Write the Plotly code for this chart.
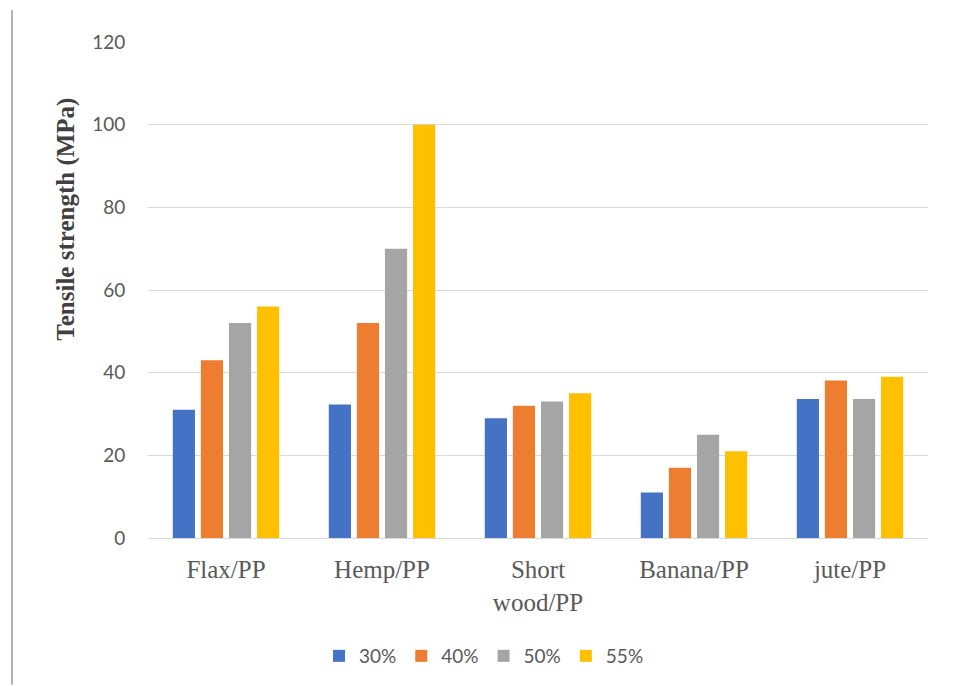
import plotly.graph_objects as go

categories = ["Flax/PP", "Hemp/PP", "Short<br>wood/PP", "Banana/PP", "jute/PP"]
series_names = ["30%", "40%", "50%", "55%"]
v30 = [31.0, 32.3, 29.0, 11.0, 33.6]
v40 = [43.0, 52.0, 32.0, 17.0, 38.1]
v50 = [52.0, 70.0, 33.0, 25.0, 33.6]
v55 = [56.0, 100.0, 35.0, 21.0, 39.0]
colors = ["#4472C4", "#ED7D31", "#A5A5A5", "#FFC000"]
y_ticks = [0, 20, 40, 60, 80, 100, 120]

fig = go.Figure()
for name, vals, col in zip(series_names, [v30, v40, v50, v55], colors):
    fig.add_trace(go.Bar(x=categories, y=vals, name=name, marker=dict(color=col, line=dict(width=0))))

W, H = 955, 686
L, R, T, B = 148, 27, 42, 147
pw, ph = W - L - R, H - T - B

fig.update_layout(
    width=W, height=H,
    margin=dict(l=L, r=R, t=T, b=B),
    paper_bgcolor="white", plot_bgcolor="white",
    barmode="group", bargap=0.28, bargroupgap=0.21,
    showlegend=True,
    legend=dict(orientation="h", x=(484 - L) / pw, xanchor="center",
                y=(H - B - 656) / ph, yanchor="middle",
                font=dict(family="Lato, Open Sans, sans-serif", size=19, color="#595959"),
                itemwidth=30, tracegroupgap=0),
    xaxis=dict(showgrid=False, showline=False, zeroline=False,
               ticks="outside", ticklen=9, tickcolor="rgba(0,0,0,0)",
               tickfont=dict(family="Liberation Serif, Times New Roman, serif", size=25, color="#595959")),
    yaxis=dict(range=[0, 120], tickvals=y_ticks, showgrid=True, gridcolor="#D9D9D9", gridwidth=1.3,
               zeroline=True, zerolinecolor="#D9D9D9", zerolinewidth=1.3, showline=False,
               ticks="outside", ticklen=18, tickcolor="rgba(0,0,0,0)",
               tickfont=dict(family="Lato, Open Sans, sans-serif", size=19, color="#595959")),
    annotations=[dict(text="<b>Tensile strength (MPa)</b>", textangle=-90,
                      xref="paper", yref="paper",
                      x=(66 - L) / pw, y=(H - B - 220) / ph,
                      xanchor="center", yanchor="middle", showarrow=False,
                      font=dict(family="Liberation Serif, Times New Roman, serif", size=25, color="#404040"))],
    shapes=[dict(type="line", xref="paper", yref="paper",
                 x0=(12 - L) / pw, x1=(12 - L) / pw,
                 y0=(H - B - 10) / ph, y1=(H - B - 686) / ph,
                 line=dict(color="#8C8C8C", width=1.3))],
)

fig.write_html("out.html")
